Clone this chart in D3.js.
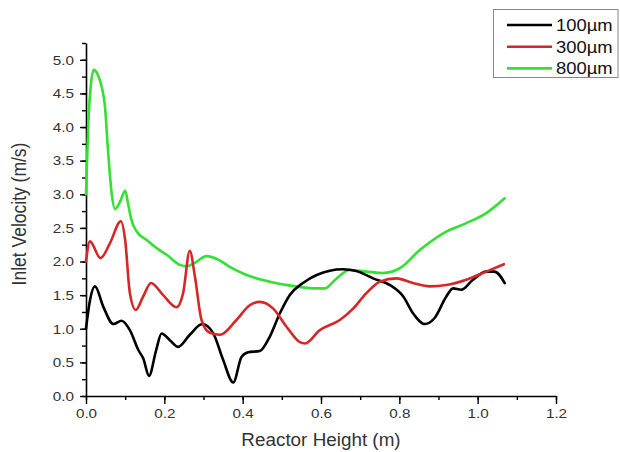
<!DOCTYPE html>
<html>
<head>
<meta charset="utf-8">
<script src="https://cdn.jsdelivr.net/npm/d3@7/dist/d3.min.js"></script>
<style>
  html, body { margin: 0; padding: 0; background: #fff; }
  svg { display: block; font-family: "Liberation Sans", Arial, sans-serif; }
</style>
</head>
<body>
<svg id="chart" width="620" height="452"></svg>
<script>
// Inlet velocity profiles along the reactor height for three particle sizes
const seriesNames = ["100µm", "300µm", "800µm"];
const seriesColors = ["#000000", "#d42828", "#33e033"];

const height100 = [0, 0.008, 0.023, 0.044, 0.07, 0.091, 0.112, 0.134, 0.146, 0.161, 0.179, 0.193, 0.214, 0.235, 0.265, 0.297, 0.325, 0.35, 0.376, 0.397, 0.414, 0.444, 0.469, 0.495, 0.52, 0.554, 0.589, 0.656, 0.69, 0.733, 0.776, 0.81, 0.835, 0.865, 0.89, 0.92, 0.937, 0.958, 0.988, 1.022, 1.043, 1.069];
const vel100 = [1.0, 1.35, 1.63, 1.33, 1.07, 1.12, 0.98, 0.68, 0.56, 0.30, 0.68, 0.93, 0.83, 0.73, 0.91, 1.07, 0.93, 0.54, 0.20, 0.58, 0.65, 0.67, 0.88, 1.23, 1.50, 1.68, 1.80, 1.885, 1.86, 1.75, 1.65, 1.48, 1.23, 1.07, 1.16, 1.48, 1.60, 1.58, 1.73, 1.85, 1.85, 1.68];

const height300 = [0, 0.01, 0.037, 0.061, 0.089, 0.1, 0.112, 0.127, 0.146, 0.166, 0.197, 0.231, 0.248, 0.265, 0.278, 0.295, 0.316, 0.342, 0.384, 0.418, 0.444, 0.478, 0.512, 0.546, 0.559, 0.597, 0.648, 0.682, 0.716, 0.75, 0.793, 0.835, 0.878, 0.92, 0.971, 1.022, 1.067];
const vel300 = [2.0, 2.30, 2.05, 2.27, 2.60, 2.32, 1.53, 1.28, 1.48, 1.68, 1.50, 1.32, 1.53, 2.16, 1.78, 1.13, 0.94, 0.91, 1.13, 1.35, 1.40, 1.30, 1.03, 0.80, 0.78, 0.98, 1.13, 1.30, 1.53, 1.70, 1.75, 1.68, 1.63, 1.65, 1.73, 1.85, 1.96];

const height800 = [0, 0.006, 0.012, 0.02, 0.03, 0.04, 0.048, 0.057, 0.066, 0.074, 0.087, 0.1, 0.108, 0.116, 0.129, 0.155, 0.18, 0.206, 0.24, 0.257, 0.275, 0.308, 0.34, 0.367, 0.41, 0.469, 0.537, 0.589, 0.61, 0.631, 0.673, 0.716, 0.758, 0.801, 0.852, 0.912, 0.971, 1.022, 1.069];
const vel800 = [3.0, 4.08, 4.6, 4.85, 4.78, 4.6, 4.33, 3.59, 2.99, 2.78, 2.89, 3.05, 2.84, 2.62, 2.45, 2.32, 2.2, 2.1, 1.95, 1.93, 1.97, 2.08, 2.02, 1.92, 1.80, 1.70, 1.63, 1.60, 1.60, 1.70, 1.875, 1.85, 1.83, 1.90, 2.17, 2.42, 2.57, 2.72, 2.94];

const xTicks = [0, 0.2, 0.4, 0.6, 0.8, 1.0, 1.2];
const yTicks = [0, 0.5, 1.0, 1.5, 2.0, 2.5, 3.0, 3.5, 4.0, 4.5, 5.0];
const xLabel = "Reactor Height (m)";
const yLabel = "Inlet Velocity (m/s)";

const svg = d3.select("#chart");
const plot = { left: 86, right: 556, top: 43, bottom: 396 };
const textStretch = 1.13;   // slightly widened lettering

const x = d3.scaleLinear().domain([0, 1.2]).range([plot.left, plot.right]);
const y = d3.scaleLinear().domain([0, 5.25]).range([plot.bottom, plot.top]);

// minor ticks
const xMinor = d3.range(0, 1.2001, 0.1);
const yMinor = d3.range(0, 5.2501, 0.25);

svg.append("g").attr("transform", `translate(0,${plot.bottom})`)
  .call(d3.axisBottom(x).tickValues(xMinor).tickSize(4).tickFormat(""))
  .call(g => g.select(".domain").remove());
const gxMaj = svg.append("g").attr("transform", `translate(0,${plot.bottom})`)
  .call(d3.axisBottom(x).tickValues(xTicks).tickSize(8).tickSizeOuter(0).tickPadding(4).tickFormat(d3.format(".1f")));

svg.append("g").attr("transform", `translate(${plot.left},0)`)
  .call(d3.axisLeft(y).tickValues(yMinor).tickSize(4).tickFormat(""))
  .call(g => g.select(".domain").remove());
const gyMaj = svg.append("g").attr("transform", `translate(${plot.left},0)`)
  .call(d3.axisLeft(y).tickValues(yTicks).tickSize(6).tickSizeOuter(0).tickPadding(6).tickFormat(d3.format(".1f")));

svg.selectAll(".domain").attr("stroke", "#000").attr("stroke-width", 1.6);
svg.selectAll(".tick line").attr("stroke", "#000").attr("stroke-width", 1.4);
svg.selectAll(".tick text")
  .attr("fill", "#333")
  .style("font-size", "13.5px")
  .style("font-family", "'Liberation Sans', Arial, sans-serif");
gxMaj.selectAll(".tick text").attr("transform", `scale(${textStretch},1)`);
gyMaj.selectAll(".tick text").attr("transform", `translate(-12,0) scale(${textStretch},1) translate(12,0)`);

// series lines
const line = d3.line()
  .x(d => x(d[0]))
  .y(d => y(d[1]))
  .curve(d3.curveMonotoneX);

const series = [
  { name: seriesNames[0], color: seriesColors[0], pts: d3.zip(height100, vel100) },
  { name: seriesNames[1], color: seriesColors[1], pts: d3.zip(height300, vel300) },
  { name: seriesNames[2], color: seriesColors[2], pts: d3.zip(height800, vel800) }
];

const drawOrder = [2, 0, 1];
drawOrder.forEach(i => {
  svg.append("path")
    .datum(series[i].pts)
    .attr("fill", "none")
    .attr("stroke", series[i].color)
    .attr("stroke-width", 2.6)
    .attr("stroke-linejoin", "round")
    .attr("stroke-linecap", "round")
    .attr("d", line);
});

// axis titles
svg.append("text")
  .attr("transform", `translate(321,446) scale(1.02,1)`)
  .attr("text-anchor", "middle")
  .attr("fill", "#333")
  .style("font-size", "18.5px")
  .text(xLabel);

svg.append("text")
  .attr("transform", `translate(26,214) scale(${textStretch},1) rotate(-90)`)
  .attr("text-anchor", "middle")
  .attr("fill", "#333")
  .style("font-size", "17.5px")
  .text(yLabel);

// legend
const legend = svg.append("g");
legend.append("rect")
  .attr("x", 493.5).attr("y", 9.5)
  .attr("width", 124.5).attr("height", 68)
  .attr("fill", "#fff")
  .attr("stroke", "#888")
  .attr("stroke-width", 1);

series.forEach((s, i) => {
  const ly = 25 + i * 21.7;
  legend.append("line")
    .attr("x1", 507).attr("x2", 552)
    .attr("y1", ly).attr("y2", ly)
    .attr("stroke", s.color)
    .attr("stroke-width", 2.6);
  legend.append("text")
    .attr("transform", `translate(556,${ly}) scale(${textStretch},1)`)
    .attr("dy", "0.36em")
    .attr("fill", "#111")
    .style("font-size", "16.3px")
    .text(s.name);
});
</script>
</body>
</html>
